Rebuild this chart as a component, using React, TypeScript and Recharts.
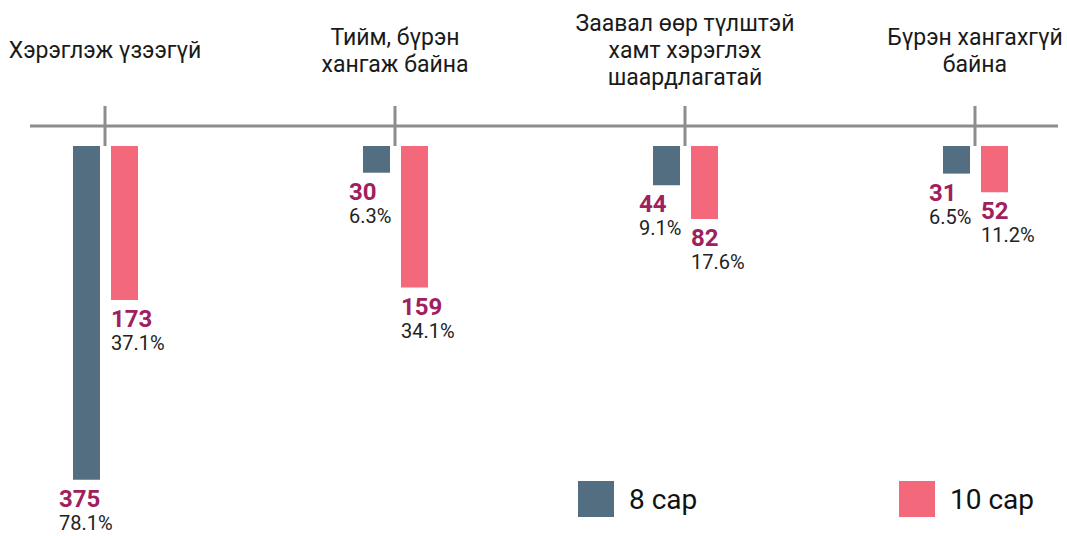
import { BarChart, Bar, XAxis, YAxis, Legend, LabelList } from "recharts";

const categories = [
  "Хэрэглэж үзээгүй",
  "Тийм, бүрэн\nхангаж байна",
  "Заавал өөр түлштэй\nхамт хэрэглэх\nшаардлагатай",
  "Бүрэн хангахгүй\nбайна",
];
const seriesNames = ["8 сар", "10 сар"];
const sar8 = [375, 30, 44, 31];
const sar10 = [173, 159, 82, 52];
const pct8 = [78.1, 6.3, 9.1, 6.5];
const pct10 = [37.1, 34.1, 17.6, 11.2];

const data = categories.map((name, i) => ({ name, s8: sar8[i], s10: sar10[i] }));

const FONT = "Roboto, 'Noto Sans', sans-serif";
const GRAY = "#8b8e8d";

const CategoryTick = ({ x, y, payload }: any) => {
  const lines = String(payload.value).split("\n");
  const first = y - 68 - (lines.length - 1) * 13.5;
  return (
    <g>
      <line x1={x} x2={x} y1={y - 20} y2={y + 20} stroke={GRAY} strokeWidth={3} />
      <text x={x} textAnchor="middle" fontSize={23} fill="#1a1a1a" fontFamily={FONT}>
        {lines.map((l, i) => (
          <tspan key={i} x={x} y={first + i * 27}>
            {l}
          </tspan>
        ))}
      </text>
    </g>
  );
};

const makeLabel = (pcts: number[], dx: number) => (props: any) => {
  const { x, y, height, index, value } = props;
  const bottom = Math.max(y, y + height);
  return (
    <g fontFamily={FONT}>
      <text x={x + dx} y={bottom + 27} fontSize={24} fontWeight={700} fill="#a0205e">
        {value}
      </text>
      <text x={x + dx} y={bottom + 50} fontSize={20} fill="#222">
        {pcts[index].toFixed(1)}%
      </text>
    </g>
  );
};

const renderLegend = ({ payload }: any) => {
  // keep series order (legend sorts by name otherwise)
  const items = [...(payload || [])].sort(
    (a: any, b: any) => seriesNames.indexOf(a.value) - seriesNames.indexOf(b.value)
  );
  return (
    <div style={{ display: "flex", fontFamily: FONT }}>
      {items.map((p: any) => (
        <div
          key={p.value}
          style={{ display: "flex", alignItems: "center", width: 321, flexShrink: 0 }}
        >
          <span style={{ display: "inline-block", width: 36, height: 36, background: p.color, marginRight: 15 }} />
          <span style={{ fontSize: 28, color: "#111" }}>{p.value}</span>
        </div>
      ))}
    </div>
  );
};

export default function App() {
  return (
    <div style={{ width: 1067, height: 536, fontFamily: FONT, background: "#fff" }}>
      <style>{`body{margin:0}`}</style>
      <BarChart
        width={1067}
        height={536}
        data={data}
        margin={{ top: 0, right: 9, left: 30, bottom: 10 }}
        barSize={27}
        barGap={11}
      >
        <XAxis
          dataKey="name"
          orientation="top"
          height={126}
          interval={0}
          tickSize={0}
          tickMargin={0}
          tickLine={false}
          axisLine={{ stroke: GRAY, strokeWidth: 3 }}
          padding={{ left: -70, right: -62 }}
          tick={<CategoryTick />}
        />
        <YAxis hide type="number" reversed domain={[-22.5, 427]} allowDataOverflow />
        <Legend
          content={renderLegend}
          layout="horizontal"
          verticalAlign="middle"
          align="center"
          wrapperStyle={{ left: 578, top: 481, width: 480, height: 36 }}
        />
        <Bar dataKey="s8" name={seriesNames[0]} fill="#546e81" isAnimationActive={false}>
          <LabelList dataKey="s8" content={makeLabel(pct8, -14)} />
        </Bar>
        <Bar dataKey="s10" name={seriesNames[1]} fill="#f3687b" isAnimationActive={false}>
          <LabelList dataKey="s10" content={makeLabel(pct10, 0)} />
        </Bar>
      </BarChart>
    </div>
  );
}
